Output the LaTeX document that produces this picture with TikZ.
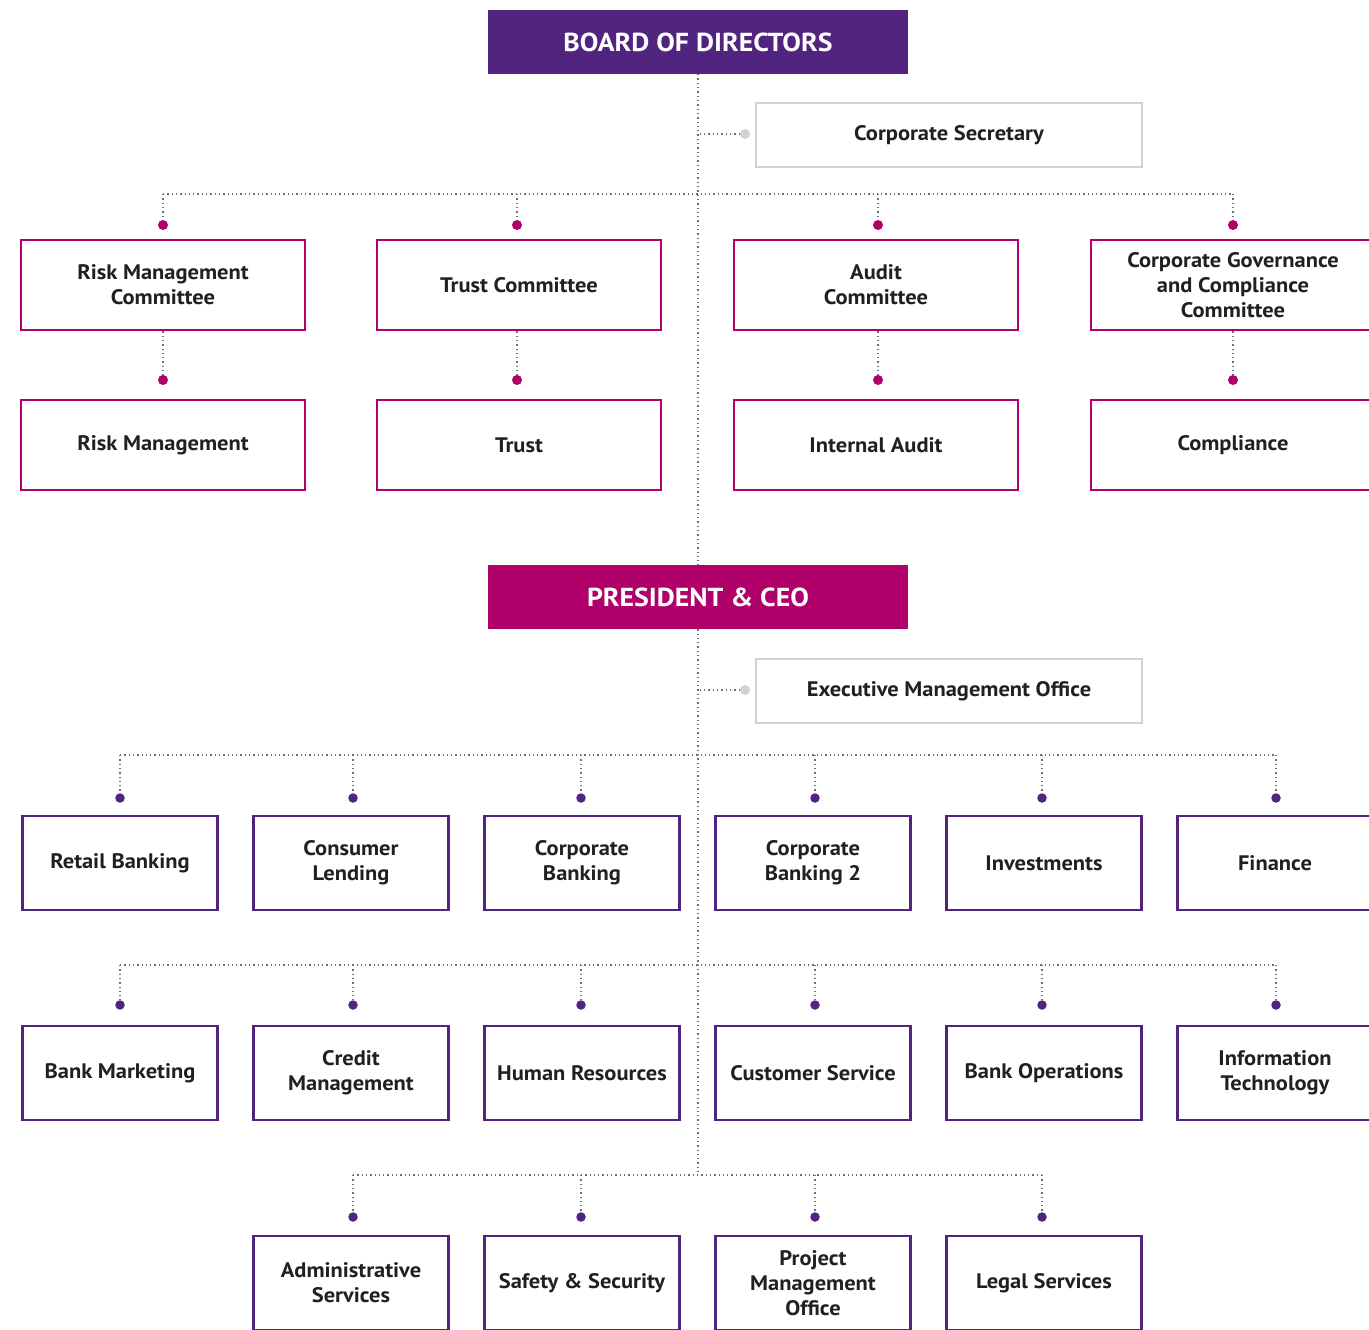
\documentclass[tikz,border=0pt]{standalone}
\usepackage{fontspec}
\setmainfont{PT Sans}[FakeStretch=1.07]
\usetikzlibrary{positioning,calc}
\definecolor{boardpurple}{HTML}{51247F}
\definecolor{ceomagenta}{HTML}{B0006A}
\definecolor{staffgray}{HTML}{D1D2D4}
\definecolor{textdark}{HTML}{231F20}
\definecolor{linegray}{HTML}{6D6E71}
\tikzset{
head/.style = {rectangle, minimum width=420pt, minimum height=64pt, text=white, font=\fontsize{26}{30}\selectfont\bfseries},
board/.style = {head, fill=boardpurple},
ceo/.style = {head, fill=ceomagenta},
box/.style = {rectangle, fill=white, line width=2.6pt, align=center, text=textdark, font=\fontsize{21}{25}\selectfont\bfseries},
staff/.style = {box, draw=staffgray, minimum width=386pt, minimum height=64pt},
committee/.style = {box, draw=ceomagenta, minimum width=284pt, minimum height=90pt},
unit/.style = {box, draw=boardpurple, minimum width=195pt, minimum height=94pt},
mdot/.style = {circle, fill=ceomagenta, inner sep=0pt, minimum size=10pt},
pdot/.style = {circle, fill=boardpurple, inner sep=0pt, minimum size=9.5pt},
gdot/.style = {circle, fill=staffgray, inner sep=0pt, minimum size=10pt},
link/.style = {draw=linegray, line width=1.3pt, dash pattern=on 1.3pt off 3pt},
tmp/.style = {coordinate}
}

\begin{document}
\begin{tikzpicture}[x=1pt, y=-1pt, node distance=231pt]
  \useasboundingbox (0,0) rectangle (1369,1330);

  % board and its committees
  \node [board]                                   (board)  at (698,42)   {BOARD OF DIRECTORS};
  \node [staff]                                   (secr)   at (949,135)  {Corporate Secretary};
  \node [gdot]                                    (dsecr)  at (745,134)  {};

  \node [committee]                               (rmc)    at (163,285)  {Risk Management\\Committee};
  \node [committee]                               (tc)     at (519,285)  {Trust Committee};
  \node [committee]                               (ac)     at (876,285)  {Audit\\Committee};
  \node [committee]                               (cgc)    at (1233,285) {Corporate Governance\\and Compliance\\Committee};
  \node [committee, below of=rmc, node distance=160pt] (rm) {Risk Management};
  \node [committee, below of=tc, node distance=160pt]  (tr) {Trust};
  \node [committee, below of=ac, node distance=160pt]  (ia) {Internal Audit};
  \node [committee, below of=cgc, node distance=160pt] (cp) {Compliance};

  \node [mdot] (drmc) at (163,225)  {};
  \node [mdot] (dtc)  at (517,225)  {};
  \node [mdot] (dac)  at (878,225)  {};
  \node [mdot] (dcgc) at (1233,225) {};
  \node [mdot] (drm)  at (163,380)  {};
  \node [mdot] (dtr)  at (517,380)  {};
  \node [mdot] (dia)  at (878,380)  {};
  \node [mdot] (dcp)  at (1233,380) {};

  % president and units
  \node [ceo]                                     (ceo)    at (698,597)  {PRESIDENT \& CEO};
  \node [staff]                                   (emo)    at (949,691)  {Executive Management Office};
  \node [gdot]                                    (demo)   at (745,690)  {};

  \node [unit]                  (retail)  at (120,863) {Retail Banking};
  \node [unit, right of=retail] (consum)  {Consumer\\Lending};
  \node [unit, right of=consum] (corpb)   {Corporate\\Banking};
  \node [unit, right of=corpb]  (corpb2)  {Corporate\\Banking 2};
  \node [unit, right of=corpb2] (invest)  {Investments};
  \node [unit, right of=invest] (fin)     {Finance};

  \node [unit]                  (mkt)     at (120,1073) {Bank Marketing};
  \node [unit, right of=mkt]    (credit)  {Credit\\Management};
  \node [unit, right of=credit] (hr)      {Human Resources};
  \node [unit, right of=hr]     (cs)      {Customer Service};
  \node [unit, right of=cs]     (ops)     {Bank Operations};
  \node [unit, right of=ops]    (it)      {Information\\Technology};

  \node [unit]                  (admin)   at (351,1283) {Administrative\\Services};
  \node [unit, right of=admin]  (safety)  {Safety \& Security};
  \node [unit, right of=safety] (pmo)     {Project\\Management\\Office};
  \node [unit, right of=pmo]    (legal)   {Legal Services};

  \node [pdot] (d11) at (120,798)  {};
  \node [pdot] (d12) at (353,798)  {};
  \node [pdot] (d13) at (581,798)  {};
  \node [pdot] (d14) at (815,798)  {};
  \node [pdot] (d15) at (1042,798) {};
  \node [pdot] (d16) at (1276,798) {};
  \node [pdot] (d21) at (120,1005)  {};
  \node [pdot] (d22) at (353,1005)  {};
  \node [pdot] (d23) at (581,1005)  {};
  \node [pdot] (d24) at (815,1005)  {};
  \node [pdot] (d25) at (1042,1005) {};
  \node [pdot] (d26) at (1276,1005) {};
  \node [pdot] (d32) at (353,1217)  {};
  \node [pdot] (d33) at (581,1217)  {};
  \node [pdot] (d34) at (815,1217)  {};
  \node [pdot] (d35) at (1042,1217) {};

  \node [tmp] (bus1) at (698,194)  {};
  \node [tmp] (bus2) at (698,755)  {};
  \node [tmp] (bus3) at (698,965)  {};
  \node [tmp] (bus4) at (698,1175) {};

  % dotted connectors
  \draw [link] (board) -- (ceo);
  \draw [link] (ceo) -- (bus4);
  \draw [link] (dsecr) -- (dsecr -| board);
  \draw [link] (demo) -- (demo -| ceo);

  \draw [link] (drmc |- bus1) -- (dcgc |- bus1);
  \foreach \d in {drmc,dtc,dac,dcgc} \draw [link] (\d |- bus1) -- (\d);
  \draw [link] (rmc) -- (drm);
  \draw [link] (dtr |- tc.south) -- (dtr);
  \draw [link] (dia |- ac.south) -- (dia);
  \draw [link] (cgc) -- (dcp);

  \draw [link] (d11 |- bus2) -- (d16 |- bus2);
  \draw [link] (d21 |- bus3) -- (d26 |- bus3);
  \draw [link] (d32 |- bus4) -- (d35 |- bus4);
  \foreach \d in {d11,d12,d13,d14,d15,d16} \draw [link] (\d |- bus2) -- (\d);
  \foreach \d in {d21,d22,d23,d24,d25,d26} \draw [link] (\d |- bus3) -- (\d);
  \foreach \d in {d32,d33,d34,d35} \draw [link] (\d |- bus4) -- (\d);
\end{tikzpicture}
\end{document}
